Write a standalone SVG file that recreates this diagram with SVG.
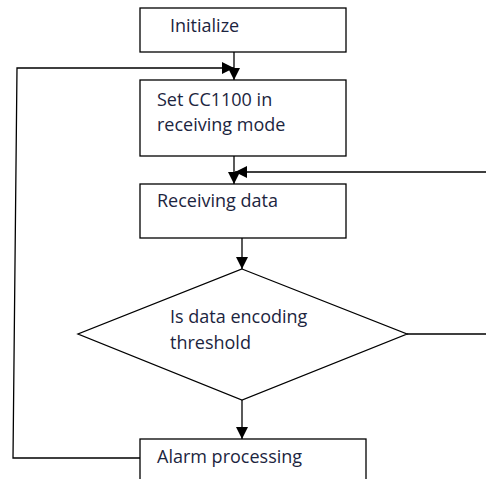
<svg xmlns="http://www.w3.org/2000/svg" width="486" height="479" viewBox="0 0 486 479">
  <defs>
    <marker id="arrow" viewBox="0 0 12 12" refX="12" refY="6" markerWidth="12" markerHeight="12" markerUnits="userSpaceOnUse" orient="auto">
      <path d="M0,0 L12,6 L0,12 Z" fill="#000"/>
    </marker>
  </defs>
  <style>
    .box { fill: #fff; stroke: #000; stroke-width: 1.3; }
    .lbl { font-family: "Open Sans", "Liberation Sans", sans-serif; font-size: 18px; fill: #1c2540; }
    .link { fill: none; stroke: #000; stroke-width: 1.3; }
    .arr { marker-end: url(#arrow); }
  </style>
  <rect width="486" height="479" fill="#fff"/>

  <g id="connectors">
    <!-- Initialize -> Set CC1100 -->
    <line class="link arr" x1="234" y1="52" x2="234" y2="80"/>
    <!-- loop back from Alarm processing -->
    <polyline class="link arr" points="140,458 13,458 17,68 234,68"/>
    <!-- Set CC1100 -> Receiving data -->
    <line class="link arr" x1="234" y1="156" x2="234" y2="184"/>
    <!-- loop back from decision (right side, runs past the edge) -->
    <polyline class="link arr" points="407,334 492,334 492,172 235,172"/>
    <!-- Receiving data -> decision -->
    <line class="link arr" x1="242" y1="238" x2="242" y2="269"/>
    <!-- decision -> Alarm processing -->
    <line class="link arr" x1="242" y1="400" x2="242" y2="439"/>
  </g>

  <g id="initialize">
    <rect class="box" x="140" y="8" width="206" height="44"/>
    <text class="lbl" x="170" y="32">Initialize</text>
  </g>

  <g id="set-cc1100">
    <rect class="box" x="140" y="80" width="206" height="76"/>
    <text class="lbl" x="157" y="106">Set CC1100 in</text>
    <text class="lbl" x="157" y="131">receiving mode</text>
  </g>

  <g id="receiving-data">
    <rect class="box" x="140" y="184" width="206" height="54"/>
    <text class="lbl" x="157" y="207">Receiving data</text>
  </g>

  <g id="decision">
    <polygon class="box" points="242,269 407,334 242,400 78,334"/>
    <text class="lbl" x="170" y="323">Is data encoding</text>
    <text class="lbl" x="170" y="349">threshold</text>
  </g>

  <g id="alarm-processing">
    <rect class="box" x="140" y="439" width="226" height="60"/>
    <text class="lbl" x="157" y="463">Alarm processing</text>
  </g>
</svg>
